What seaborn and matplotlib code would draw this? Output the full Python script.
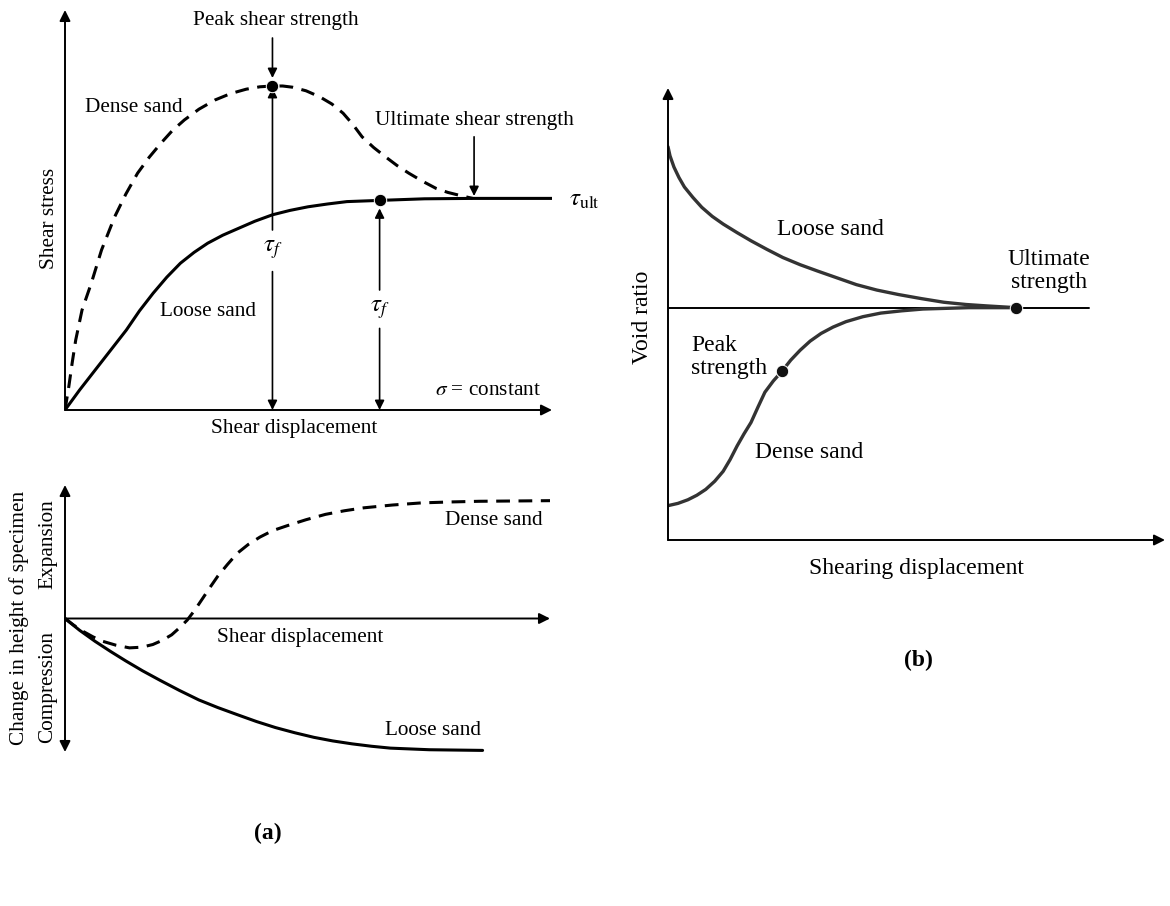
import numpy as np
import pandas as pd
import matplotlib
matplotlib.use("Agg")
import matplotlib.pyplot as plt
import seaborn as sns

# ---- data (axes in % of arrow length) ----
# (a) top: shear stress vs shear displacement
dense_x = [0, 0.8, 1.5, 2.2, 3.5, 5.4, 7.5, 10.2, 12.5, 14.9, 17.3, 19.7, 22.0, 24.5, 27.5, 30.8,
           34.0, 37.2, 40.0, 42.6, 44.7, 46.7, 49.5, 52.3, 54.8, 57.1, 59.1, 61.0, 63.4, 65.8,
           68.2, 70.6, 73.4, 76.2, 78.6, 80.9, 83.7]
dense_y = [0, 6.0, 12.0, 17.5, 25.0, 31.7, 40.0, 48.3, 54.0, 59.2, 63.2, 66.7, 69.8, 72.5, 75.2, 77.5,
           79.1, 80.2, 80.8, 81.0, 81.0, 80.7, 79.8, 78.3, 76.5, 74.2, 71.4, 68.3, 65.6, 63.3,
           61.1, 59.2, 57.2, 55.4, 54.4, 53.7, 52.9]
loose_x = [0, 3.0, 6.2, 9.4, 12.6, 15.3, 18.1, 20.9, 23.7, 26.5, 29.3, 32.4, 35.6, 39.0, 42.6,
           46.2, 49.9, 53.9, 57.9, 64.6, 73.8, 83.7, 101.4]
loose_y = [0, 5.0, 10.0, 15.0, 20.0, 24.8, 29.2, 33.2, 36.7, 39.4, 41.7, 43.7, 45.4, 47.2, 48.8,
           49.9, 50.8, 51.5, 52.1, 52.4, 52.8, 52.9, 52.9]
peak_pt = (42.6, 81.0)
loose_pt = (64.6, 52.4)
ult_x = 84.0

# (a) bottom: change in height vs shear displacement
dh_dense_x = [0, 1.8, 3.8, 5.8, 7.8, 10.5, 13.3, 15.8, 18.1, 20.1, 22.0, 23.6, 25.2, 26.8, 28.3,
              29.9, 31.5, 33.5, 35.5, 37.8, 40.2, 42.8, 45.8, 49.7, 53.7, 57.6, 61.6, 67.5,
              73.5, 79.5, 85.4, 101.0]
dh_dense_y = [0, -5.0, -9.8, -13.8, -17.1, -20.0, -22.0, -21.5, -19.5, -16.3, -12.2, -7.0, -1.2,
              6.5, 14.6, 23.3, 31.7, 40.5, 48.8, 55.5, 61.0, 65.8, 69.5, 74.0, 78.0, 80.7, 82.9,
              85.0, 86.6, 87.3, 87.8, 88.3]
dh_loose_x = [0, 3.0, 6.2, 9.4, 12.5, 16.0, 19.6, 23.6, 27.6, 31.5, 35.5, 39.5, 43.4, 47.4, 51.3,
              55.2, 59.2, 63.2, 67.1, 75.1, 86.1]
dh_loose_y = [0, -8.8, -17.1, -24.7, -31.7, -39.2, -46.3, -53.9, -61.0, -66.7, -72.0, -77.2, -81.7,
              -85.6, -89.0, -91.7, -93.9, -95.7, -97.1, -98.3, -98.8]

# (b) void ratio vs shearing displacement
e_loose_x = [0, 0.4, 1.2, 2.2, 3.3, 5.0, 6.8, 8.9, 11.1, 13.9, 16.7, 19.9, 23.1, 26.6, 30.1,
             34.0, 37.9, 42.0, 46.4, 51.0, 55.5, 60.0, 64.0, 70.0]
e_loose_y = [87.0, 85.0, 82.5, 80.2, 78.1, 75.8, 73.6, 71.6, 69.9, 68.0, 66.2, 64.3, 62.5, 60.9,
             59.5, 58.0, 56.5, 55.3, 54.3, 53.4, 52.6, 52.1, 51.8, 51.4]
e_dense_x = [0, 2.0, 4.0, 5.8, 7.6, 9.4, 11.1, 12.5, 13.9, 15.3, 16.7, 18.1, 19.5, 21.2, 22.9,
             24.7, 26.6, 28.6, 30.8, 33.2, 35.8, 39.2, 42.8, 47.0, 51.3, 60.5, 70.0]
e_dense_y = [7.6, 8.1, 8.9, 9.9, 11.2, 13.0, 15.2, 17.8, 20.8, 23.5, 26.0, 29.4, 32.7, 35.2, 37.3,
             39.8, 42.0, 44.0, 45.7, 47.1, 48.3, 49.4, 50.2, 50.7, 51.1, 51.4, 51.4]
e_ult = 51.4
e_peak_pt = (22.9, 37.3)
e_ult_pt = (70.0, 51.4)

sns.set_theme(style="white")
plt.rcParams["font.family"] = ["Liberation Serif", "DejaVu Serif"]
plt.rcParams["mathtext.fontset"] = "stix"
plt.rcParams["text.color"] = "black"

W, H = 1170, 906
fig = plt.figure(figsize=(W / 100, H / 100), dpi=100)


def px_axes(x0, y_bottom, w, h):
    return fig.add_axes([x0 / W, 1 - y_bottom / H, w / W, h / H])


def arrow(ax, start, end, lw=1.4, scale=16):
    ax.annotate("", xy=end, xytext=start,
                arrowprops=dict(arrowstyle="-|>", color="black", lw=lw,
                                mutation_scale=scale, shrinkA=0, shrinkB=0),
                annotation_clip=False)


fs_a = 15.3
fs_b = 17
fs_m = 18
dash = (0, (4.5, 2.8))

# ---------- (a) top ----------
ax1 = px_axes(65, 410, 487, 400)
ax1.set_xlim(0, 100)
ax1.set_ylim(0, 100)
ax1.set_axis_off()
arrow(ax1, (0, 0), (100, 0))
arrow(ax1, (0, 0), (0, 100))
sns.lineplot(x=dense_x, y=dense_y, ax=ax1, color="black", lw=2.2, linestyle=dash, sort=False)
sns.lineplot(x=loose_x, y=loose_y, ax=ax1, color="black", lw=2.2, sort=False)
sns.scatterplot(x=[peak_pt[0], loose_pt[0]], y=[peak_pt[1], loose_pt[1]], ax=ax1,
                color="black", s=80, zorder=5, clip_on=False)
# tau_f double arrows
arrow(ax1, (peak_pt[0], 45), (peak_pt[0], peak_pt[1] - 0.5), lw=1.2, scale=14)
arrow(ax1, (peak_pt[0], 34.6), (peak_pt[0], 0), lw=1.2, scale=14)
ax1.text(peak_pt[0], 40, r"$\tau_f$", ha="center", va="center", fontsize=fs_m)
arrow(ax1, (loose_pt[0], 30), (loose_pt[0], loose_pt[1] - 2), lw=1.2, scale=14)
arrow(ax1, (loose_pt[0], 20.4), (loose_pt[0], 0), lw=1.2, scale=14)
ax1.text(loose_pt[0], 25, r"$\tau_f$", ha="center", va="center", fontsize=fs_m)
# pointer arrows
arrow(ax1, (peak_pt[0], 93), (peak_pt[0], 83), lw=1.2, scale=14)
ax1.text(43.2, 97.5, "Peak shear strength", ha="center", va="center", fontsize=fs_a)
arrow(ax1, (ult_x, 68.3), (ult_x, 53.5), lw=1.2, scale=14)
ax1.text(ult_x, 72.5, "Ultimate shear strength", ha="center", va="center", fontsize=fs_a)
ax1.text(14.1, 75.7, "Dense sand", ha="center", va="center", fontsize=fs_a)
ax1.text(29.3, 24.6, "Loose sand", ha="center", va="center", fontsize=fs_a)
ax1.text(86.9, 4.8, r"$\sigma$ = constant", ha="center", va="center", fontsize=fs_a)
ax1.text(103.4, 52.6, r"$\tau_{\mathrm{ult}}$", ha="left", va="center", fontsize=fs_m)
ax1.text(47, -4.5, "Shear displacement", ha="center", va="center", fontsize=fs_a)
ax1.text(-3.2, 48, "Shear stress", ha="center", va="center", rotation=90, fontsize=fs_a)

# ---------- (a) bottom ----------
ax2 = px_axes(65, 752, 485, 267)
ax2.set_xlim(0, 100)
ax2.set_ylim(-100, 100)
ax2.set_axis_off()
arrow(ax2, (0, 0), (100, 0))
arrow(ax2, (0, 0), (0, 100))
arrow(ax2, (0, 0), (0, -100))
sns.lineplot(x=dh_dense_x, y=dh_dense_y, ax=ax2, color="black", lw=2.2, linestyle=dash, sort=False)
sns.lineplot(x=dh_loose_x, y=dh_loose_y, ax=ax2, color="black", lw=2.2, sort=False)
ax2.text(88.5, 73.7, "Dense sand", ha="center", va="center", fontsize=fs_a)
ax2.text(75.9, -84.1, "Loose sand", ha="center", va="center", fontsize=fs_a)
ax2.text(48.5, -14.6, "Shear displacement", ha="center", va="center", fontsize=fs_a)
ax2.text(-9.5, 0.5, "Change in height of specimen", ha="center", va="center",
         rotation=90, fontsize=fs_a)
ax2.text(-3.5, 56, "Expansion", ha="center", va="center", rotation=90, fontsize=fs_a)
ax2.text(-3.5, -51, "Compression", ha="center", va="center", rotation=90, fontsize=fs_a)

# ---------- (b) ----------
ax3 = px_axes(668, 540, 497, 452)
ax3.set_xlim(0, 100)
ax3.set_ylim(0, 100)
ax3.set_axis_off()
arrow(ax3, (0, 0), (100, 0))
arrow(ax3, (0, 0), (0, 100))
ax3.plot([0, 84.8], [e_ult, e_ult], color="black", lw=1.4)
sns.lineplot(x=e_loose_x, y=e_loose_y, ax=ax3, color="#333333", lw=2.4, sort=False)
sns.lineplot(x=e_dense_x, y=e_dense_y, ax=ax3, color="#333333", lw=2.4, sort=False)
sns.scatterplot(x=[e_peak_pt[0], e_ult_pt[0]], y=[e_peak_pt[1], e_ult_pt[1]], ax=ax3,
                color="#111111", s=80, zorder=5, clip_on=False)
ax3.text(32.6, 68.6, "Loose sand", ha="center", va="center", fontsize=fs_b)
ax3.text(76.6, 59.5, "Ultimate\nstrength", ha="center", va="center", fontsize=fs_b,
         linespacing=1.15)
ax3.text(4.6, 40.5, "Peak\nstrength", ha="left", va="center", fontsize=fs_b,
         linespacing=1.15)
ax3.text(28.4, 19.3, "Dense sand", ha="center", va="center", fontsize=fs_b)
ax3.text(49.9, -6.4, "Shearing displacement", ha="center", va="center", fontsize=fs_b)
ax3.text(-5.2, 49.3, "Void ratio", ha="center", va="center", rotation=90, fontsize=fs_b)

fig.text(268 / W, 1 - 833 / H, "(a)", ha="center", va="center", fontsize=17, fontweight="bold")
fig.text(918 / W, 1 - 660 / H, "(b)", ha="center", va="center", fontsize=17, fontweight="bold")

fig.savefig("out.png", dpi=100, facecolor="white")
